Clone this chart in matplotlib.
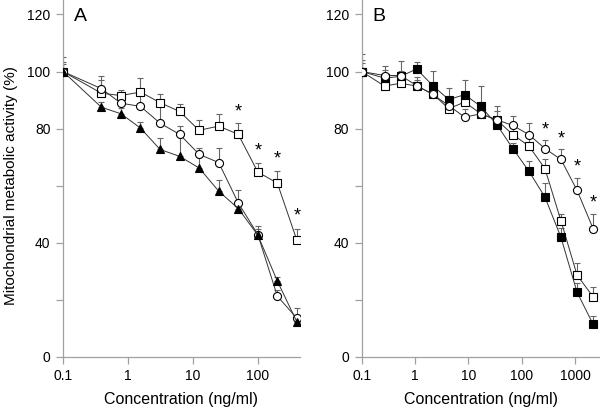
import numpy as np
import matplotlib.pyplot as plt

plt.rcParams['font.family'] = ['Liberation Sans', 'DejaVu Sans']

# Panel A: Konzentrationen (ng/ml), 0.1 = Kontrolle
conc_a = [0.1, 0.39, 0.78, 1.56, 3.125, 6.25, 12.5, 25, 50, 100, 200, 400]

a_square = [100, 92.4, 91.6, 92.8, 89.1, 86.0, 79.4, 80.9, 78.0, 64.8, 60.9, 40.9]
a_square_err = [5.0, 4.8, 2.0, 5.0, 2.9, 2.5, 3.5, 4.3, 4.1, 3.1, 4.2, 3.9]

a_circle = [100, 94.0, 88.9, 87.8, 81.9, 78.0, 71.0, 68.1, 54.0, 42.9, 21.3, 13.6]
a_circle_err = [3.5, 4.3, 4.0, 5.0, 7.0, 2.8, 2.3, 5.2, 4.4, 2.9, 2.0, 3.6]

a_triangle = [100, 87.5, 85.2, 80.2, 72.7, 70.3, 66.2, 58.1, 52.0, 42.7, 26.6, 12.3]
a_triangle_err = [2.5, 2.0, 2.0, 2.0, 4.0, 7.0, 4.0, 3.8, 2.0, 2.0, 1.5, 1.0]

# Sternchen (signifikant) bei den Quadraten
a_star_conc = [50, 100, 200, 400]
a_star_y = [86.0, 72.0, 69.5, 49.3]

# Panel B
conc_b = [0.1, 0.267, 0.534, 1.068, 2.136, 4.27, 8.54, 17.09, 34.18, 68.36,
          136.7, 273.4, 546.9, 1093.75, 2187.5]

b_filled = [100, 97.7, 98.3, 100.9, 95.1, 90.2, 91.9, 87.8, 81.4, 73.0,
            65.1, 56.0, 41.9, 22.7, 11.5]
b_filled_err = [6.0, 3.0, 2.0, 2.6, 5.2, 4.1, 5.2, 7.2, 2.0, 2.0,
                3.4, 5.1, 3.3, 3.1, 2.9]

b_square = [100, 94.9, 95.9, 94.9, 92.2, 87.0, 89.3, 85.2, 83.0, 77.9,
            73.9, 66.0, 47.7, 28.7, 21.1]
b_square_err = [4.0, 2.0, 2.0, 2.0, 2.0, 2.0, 3.0, 3.0, 3.0, 3.0,
                3.0, 3.3, 2.5, 4.1, 3.3]

b_circle = [100, 98.6, 98.6, 95.1, 92.0, 88.1, 84.0, 85.2, 83.1, 81.1,
            77.9, 73.0, 69.2, 58.4, 45.0]
b_circle_err = [3.0, 3.3, 5.2, 3.0, 3.0, 3.0, 3.0, 3.0, 4.7, 3.3,
                4.2, 2.9, 3.5, 4.3, 5.2]

b_star_conc = [273.4, 546.9, 1093.75, 2187.5]
b_star_y = [79.5, 76.4, 66.5, 54.0]

y_ticks = [0, 20, 40, 60, 80, 100, 120]
y_ticklabels = ['0', '', '40', '', '80', '100', '120']

grey = '#a0a0a0'


def series(ax, x, y, err, marker, face):
    # nur obere Fehlerbalken
    err = np.array(err)
    ax.errorbar(x, y, yerr=[np.zeros(len(err)), err], fmt='none',
                ecolor='#666666', elinewidth=0.8, capsize=2.5,
                capthick=0.8, zorder=1)
    ax.plot(x, y, color='#333333', linewidth=0.7, marker=marker,
            markersize=5.8, markerfacecolor=face, markeredgecolor='black',
            markeredgewidth=0.8, zorder=3)


def style(ax, xticks, xlabels, xmax):
    ax.set_xscale('log')
    ax.set_xlim(0.1, xmax)
    ax.set_ylim(0, 125)
    ax.set_xticks(xticks)
    ax.set_xticklabels(xlabels)
    ax.minorticks_off()
    ax.set_yticks(y_ticks)
    ax.set_yticklabels(y_ticklabels)
    for s in ['top', 'right']:
        ax.spines[s].set_visible(False)
    for s in ['left', 'bottom']:
        ax.spines[s].set_color(grey)
        ax.spines[s].set_linewidth(0.9)
    ax.tick_params(color=grey, length=5, width=0.9, labelsize=10, pad=4)
    ax.set_xlabel('Concentration (ng/ml)', fontsize=11.5, labelpad=6)


fig = plt.figure(figsize=(6, 4.13), dpi=100)

# Panel A
ax1 = fig.add_axes([0.105, 0.1356, 0.395, 0.864])
series(ax1, conc_a, a_square, a_square_err, 's', 'white')
series(ax1, conc_a, a_circle, a_circle_err, 'o', 'white')
series(ax1, conc_a, a_triangle, a_triangle_err, '^', 'black')
for x, y in zip(a_star_conc, a_star_y):
    ax1.text(x, y, '*', ha='center', va='center', fontsize=13)
style(ax1, [0.1, 1, 10, 100], ['0.1', '1', '10', '100'], 10**2.65)
ax1.text(0.045, 0.953, 'A', transform=ax1.transAxes, fontsize=14,
         va='center', ha='left')

# Panel B
ax2 = fig.add_axes([0.603, 0.1356, 0.397, 0.864])
series(ax2, conc_b, b_square, b_square_err, 's', 'white')
series(ax2, conc_b, b_filled, b_filled_err, 's', 'black')
series(ax2, conc_b, b_circle, b_circle_err, 'o', 'white')
for x, y in zip(b_star_conc, b_star_y):
    ax2.text(x, y, '*', ha='center', va='center', fontsize=13)
style(ax2, [0.1, 1, 10, 100, 1000], ['0.1', '1', '10', '100', '1000'], 10**3.47)
ax2.text(0.045, 0.953, 'B', transform=ax2.transAxes, fontsize=14,
         va='center', ha='left')

fig.text(0.018, 0.55, 'Mitochondrial metabolic activity (%)', rotation=90,
         ha='center', va='center', fontsize=11)

plt.savefig('out.png', dpi=100)
